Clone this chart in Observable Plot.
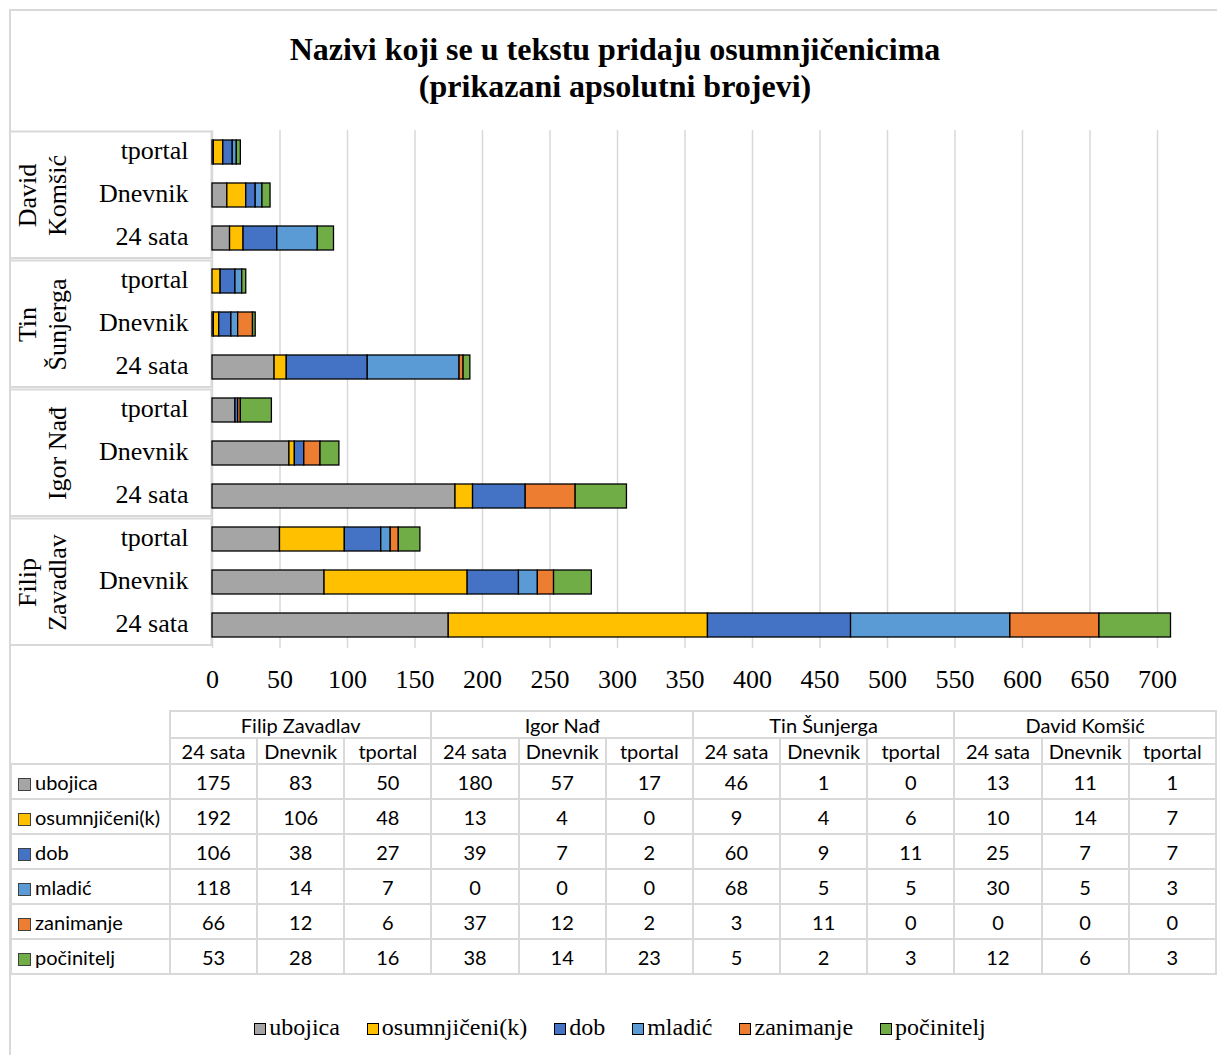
<!DOCTYPE html>
<html><head><meta charset="utf-8">
<script src="https://cdn.jsdelivr.net/npm/d3@7"></script>
<script src="https://cdn.jsdelivr.net/npm/@observablehq/plot@0.6"></script>
<style>
body{margin:0;background:#fff;}
#root{position:relative;width:1217px;height:1055px;overflow:hidden;background:#fff;}
#frame{position:absolute;left:9px;top:9px;width:1240px;height:1080px;border-left:2px solid #d9d9d9;border-top:2px solid #d9d9d9;}
#title{position:absolute;left:10px;width:1210px;top:31px;text-align:center;font-family:"Liberation Serif";font-weight:bold;font-size:32px;line-height:37px;color:#000;}
#chart{position:absolute;left:0;top:0;}
#chart svg text{font-family:"Liberation Serif" !important;}
#tbl{position:absolute;left:10px;top:710px;border-collapse:collapse;table-layout:fixed;font-family:Lato;font-size:20px;color:#000;}
#tbl td{border:2px solid #d9d9d9;text-align:center;padding:0;white-space:nowrap;overflow:hidden;}
#tbl td.lab{text-align:left;padding-left:6px;}
#tbl td.corner{border-top:none;border-left:none;}
.sw{display:inline-block;width:11px;height:11px;border:1px solid #404040;margin-right:4px;vertical-align:-1px;}
#legend{position:absolute;top:1012px;left:0;width:1240px;display:flex;justify-content:center;gap:27px;font-family:"Liberation Serif";font-size:24px;line-height:30px;color:#000;}
#legend .sw{width:10px;height:10px;border:1px solid #000;margin-right:3px;vertical-align:0px;}
</style>
</head><body>
<div id="root">
  <div id="frame"></div>
  <div id="chart"></div>
  <div id="title">Nazivi koji se u tekstu pridaju osumnjičenicima<br>(prikazani apsolutni brojevi)</div>
  <table id="tbl"></table>
  <div id="legend"></div>
</div>
<script>
// ---- data ----
const groups = ["Filip Zavadlav", "Igor Nađ", "Tin Šunjerga", "David Komšić"];
const groupAxisLabels = ["Filip\nZavadlav", "Igor Nađ", "Tin\nŠunjerga", "David\nKomšić"];
const outlets = ["24 sata", "Dnevnik", "tportal"];
const categories = ["ubojica", "osumnjičeni(k)", "dob", "mladić", "zanimanje", "počinitelj"];
const colors = ["#A5A5A5", "#FFC000", "#4472C4", "#5B9BD5", "#ED7D31", "#70AD47"];
// values in table column order: FZ(24 sata, Dnevnik, tportal), IN(...), TS(...), DK(...)
const ubojica       = [175, 83, 50, 180, 57, 17, 46, 1, 0, 13, 11, 1];
const osumnjiceni   = [192, 106, 48, 13, 4, 0, 9, 4, 6, 10, 14, 7];
const dob           = [106, 38, 27, 39, 7, 2, 60, 9, 11, 25, 7, 7];
const mladic        = [118, 14, 7, 0, 0, 0, 68, 5, 5, 30, 5, 3];
const zanimanje     = [66, 12, 6, 37, 12, 2, 3, 11, 0, 0, 0, 0];
const pocinitelj    = [53, 28, 16, 38, 14, 23, 5, 2, 3, 12, 6, 3];
const xTicks = [0, 50, 100, 150, 200, 250, 300, 350, 400, 450, 500, 550, 600, 650, 700];

const series = [ubojica, osumnjiceni, dob, mladic, zanimanje, pocinitelj];

// ---- build long table ----
const long = [];
series.forEach((vals, ci) => {
  groups.forEach((g, gi) => {
    outlets.forEach((o, oi) => {
      long.push({cat: categories[ci], key: g + "|" + o, value: vals[gi * 3 + oi]});
    });
  });
});
const yDomain = [];
[...groups].reverse().forEach(g => [...outlets].reverse().forEach(o => yDomain.push(g + "|" + o)));
const groupRows = groups.map((g, i) => ({key: g + "|Dnevnik", label: groupAxisLabels[i], g}));

function groupBoxes(index, scales, values, dims) {
  const y = scales.y;
  const bw = y.bandwidth ? y.bandwidth() : 24;
  const step = y.step ? y.step() : bw / (1 - 0.44);
  const pad = (step - bw) / 2;
  const g = d3.create("svg:g");
  groups.forEach(name => {
    const top = y(name + "|tportal") - pad;
    const bot = y(name + "|24 sata") + bw + pad;
    g.append("rect")
      .attr("x", 10).attr("y", top + 1)
      .attr("width", dims.marginLeft - 10.5).attr("height", bot - top - 2.5)
      .attr("fill", "none").attr("stroke", "#d9d9d9").attr("stroke-width", 2);
  });
  return g.node();
}

const font = "Liberation Serif";
const chart = Plot.plot({
  width: 1217,
  height: 720,
  marginLeft: 212,
  marginRight: 60,
  marginTop: 130,
  marginBottom: 72,
  style: {background: "transparent", fontFamily: font, fontSize: "26px", color: "#000"},
  x: {domain: [0, 700]},
  y: {domain: yDomain, paddingInner: 0.44, paddingOuter: 0.22},
  color: {domain: categories, range: colors},
  marks: [
    Plot.gridX(xTicks, {stroke: "#d9d9d9", strokeOpacity: 1, strokeWidth: 1.5}),
    groupBoxes,
    Plot.barX(long, Plot.stackX({x: "value", y: "key", fill: "cat", order: categories, stroke: "#000", strokeWidth: 1.3})),
    Plot.axisX({ticks: xTicks, tickSize: 0, tickPadding: 21, label: null, fontSize: 26, fontFamily: font}),
    Plot.axisY({tickSize: 0, tickPadding: 24, tickFormat: k => k.split("|")[1], label: null, fontSize: 26, fontFamily: font, dy: -2}),
    Plot.text(groupRows, {y: "key", text: "label", frameAnchor: "left", dx: -147, rotate: -90,
      textAnchor: "middle", lineAnchor: "bottom", lineHeight: 1.12, fontSize: 26, fontFamily: font, fill: "#000"})
  ]
});
document.getElementById("chart").appendChild(chart);

// ---- data table ----
const tbl = document.getElementById("tbl");
let html = "<colgroup><col style='width:159px'>";
for (let i = 0; i < 12; i++) html += "<col style='width:87.33px'>";
html += "</colgroup>";
html += "<tr style='height:27px'><td class='corner' rowspan='2' style='border-bottom:2px solid #d9d9d9'></td>";
groups.forEach(g => html += `<td colspan='3'>${g}</td>`);
html += "</tr><tr style='height:26px'>";
groups.forEach(() => outlets.forEach(o => html += `<td>${o}</td>`));
html += "</tr>";
series.forEach((vals, ci) => {
  html += `<tr style='height:35px'><td class='lab'><span class='sw' style='background:${colors[ci]}'></span>${categories[ci]}</td>`;
  vals.forEach(v => html += `<td>${v}</td>`);
  html += "</tr>";
});
tbl.innerHTML = html;

// ---- legend ----
const legend = document.getElementById("legend");
legend.innerHTML = categories.map((c, i) =>
  `<span><span class='sw' style='background:${colors[i]}'></span>${c}</span>`).join("");
</script>
</body></html>
